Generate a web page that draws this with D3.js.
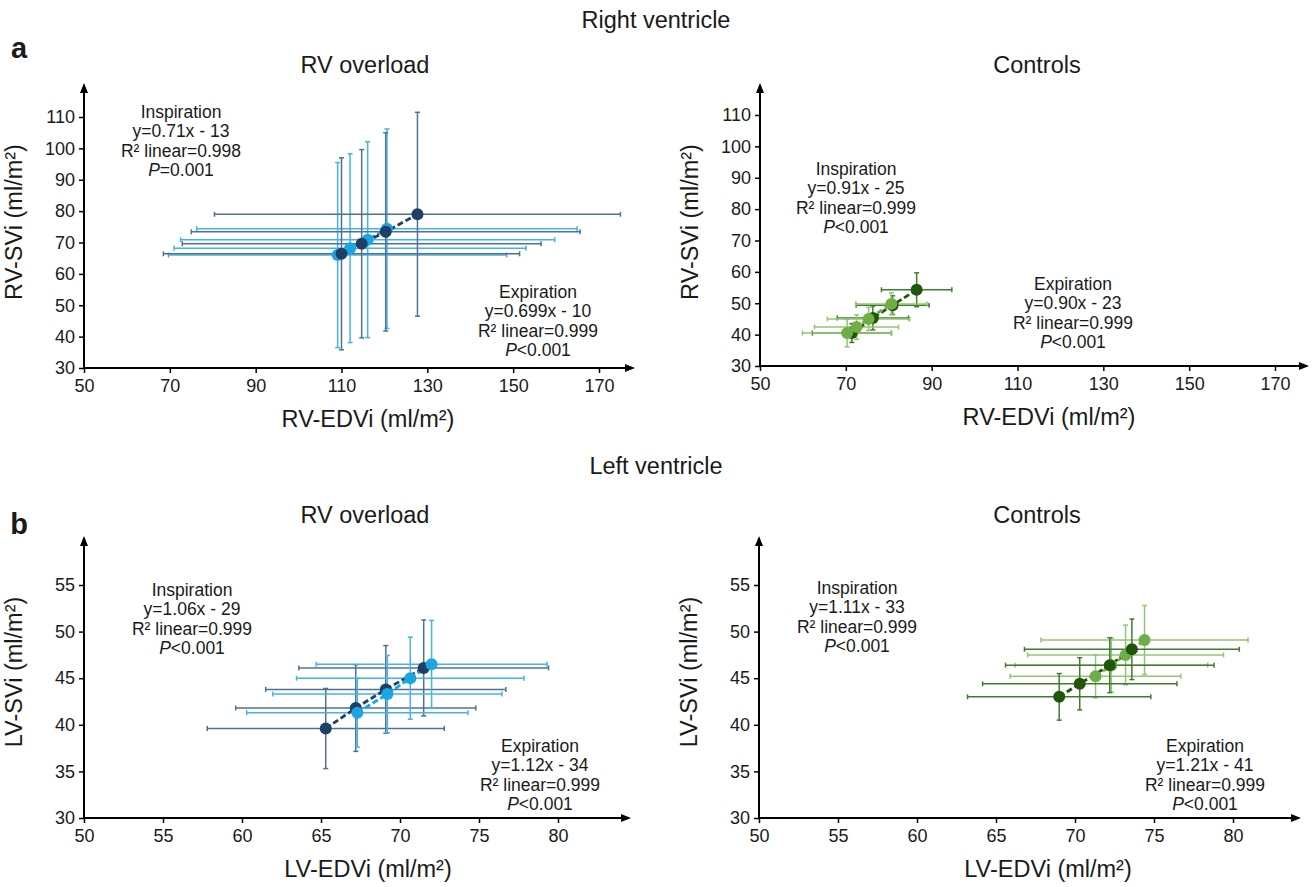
<!DOCTYPE html>
<html>
<head>
<meta charset="utf-8">
<script src="https://cdn.jsdelivr.net/npm/d3@7"></script>
<style>
  body { margin: 0; background: #fff; }
  text { font-family: "Liberation Sans", Arial, sans-serif; fill: #1a1a1a; }
</style>
</head>
<body>
<svg id="chart" width="1313" height="887"></svg>
<script>
// each row: [x, y, xErr, yErr]
const rvOverInsp = [[127.7, 79.0, 47.3, 32.5], [120.3, 73.4, 45.3, 31.6], [114.7, 69.6, 41.8, 30.0], [110.0, 66.4, 41.5, 30.6]];
const rvOverExp  = [[120.6, 74.4, 44.3, 31.8], [116.1, 70.9, 43.6, 31.2], [112.0, 68.2, 41.0, 30.1], [109.1, 66.0, 39.4, 29.5]];
const rvCtrlInsp = [[86.5, 54.3, 8.2, 5.4], [80.9, 49.4, 8.5, 3.0], [76.3, 45.3, 8.3, 3.8], [71.4, 40.5, 9.2, 3.0]];
const rvCtrlExp  = [[80.6, 49.8, 8.3, 3.5], [75.3, 45.0, 9.6, 3.7], [72.5, 42.4, 9.8, 3.9], [70.3, 40.5, 10.4, 4.4]];
const lvOverInsp = [[65.3, 39.6, 7.5, 4.3], [67.2, 41.8, 7.6, 4.65], [69.1, 43.8, 7.6, 4.7], [71.5, 46.1, 7.9, 5.15]];
const lvOverExp  = [[67.3, 41.3, 7.0, 3.7], [69.2, 43.3, 7.25, 4.15], [70.65, 45.0, 7.2, 4.4], [72.0, 46.5, 7.3, 4.7]];
const lvCtrlInsp = [[69.0, 43.0, 5.8, 2.5], [70.3, 44.4, 6.15, 2.8], [72.2, 46.4, 6.6, 2.95], [73.6, 48.1, 6.8, 3.25]];
const lvCtrlExp  = [[71.3, 45.2, 5.4, 2.3], [72.3, 46.4, 6.1, 2.9], [73.2, 47.5, 6.2, 3.2], [74.4, 49.1, 6.55, 3.7]];

const rvXTicks = [50, 70, 90, 110, 130, 150, 170];
const rvYTicks = [30, 40, 50, 60, 70, 80, 90, 100, 110];
const lvXTicks = [50, 55, 60, 65, 70, 75, 80];
const lvYTicks = [30, 35, 40, 45, 50, 55];

const rvOverInspText = ["Inspiration", "y=0.71x - 13", "R² linear=0.998", "=0.001"];
const rvOverExpText  = ["Expiration", "y=0.699x - 10", "R² linear=0.999", "<0.001"];
const rvCtrlInspText = ["Inspiration", "y=0.91x - 25", "R² linear=0.999", "<0.001"];
const rvCtrlExpText  = ["Expiration", "y=0.90x - 23", "R² linear=0.999", "<0.001"];
const lvOverInspText = ["Inspiration", "y=1.06x - 29", "R² linear=0.999", "<0.001"];
const lvOverExpText  = ["Expiration", "y=1.12x - 34", "R² linear=0.999", "<0.001"];
const lvCtrlInspText = ["Inspiration", "y=1.11x - 33", "R² linear=0.999", "<0.001"];
const lvCtrlExpText  = ["Expiration", "y=1.21x - 41", "R² linear=0.999", "<0.001"];

const blue  = { dark: "#1f3f66", darkBar: "#4f7196", light: "#1aa6e2", lightBar: "#45b3e6" };
const green = { dark: "#1f560c", darkBar: "#3f7d2e", light: "#6fae47", lightBar: "#93c572" };

let svg = d3.select("#chart");

svg.append("defs").append("marker")
    .attr("id", "arrow")
    .attr("viewBox", "0 0 10 10")
    .attr("refX", 8).attr("refY", 5)
    .attr("markerWidth", 5).attr("markerHeight", 5)
    .attr("orient", "auto")
  .append("path")
    .attr("d", "M0,1 L10,5 L0,9 z")
    .attr("fill", "#000");

function title(x, y, txt, size, weight) {
    svg.append("text")
        .attr("x", x).attr("y", y)
        .attr("text-anchor", "middle")
        .style("font-size", size + "px")
        .style("font-weight", weight || "normal")
        .text(txt);
}

function statBlock(g, cx, cy, lines) {
    let t = g.append("text")
        .attr("text-anchor", "middle")
        .style("font-size", "17.5px");
    lines.forEach(function(l, i) {
        let ts = t.append("tspan").attr("x", cx).attr("y", cy + i * 19.4);
        if (i == 3) {
            ts.append("tspan").style("font-style", "italic").text("P");
            ts.append("tspan").text(l);
        } else {
            ts.text(l);
        }
    });
}

function drawPanel(p) {
    let g = svg.append("g");
    let x = d3.scaleLinear().domain(p.xDomain).range([p.left, p.right]);
    let y = d3.scaleLinear().domain(p.yDomain).range([p.bottom, p.top]);

    // axes with arrows
    g.append("line")
        .attr("x1", p.left).attr("x2", p.arrowX)
        .attr("y1", p.bottom).attr("y2", p.bottom)
        .attr("stroke", "#000").attr("stroke-width", 2)
        .attr("marker-end", "url(#arrow)");
    g.append("line")
        .attr("x1", p.left).attr("x2", p.left)
        .attr("y1", p.bottom).attr("y2", p.arrowY)
        .attr("stroke", "#000").attr("stroke-width", 2)
        .attr("marker-end", "url(#arrow)");

    let xAxis = g.append("g")
        .attr("transform", "translate(0," + p.bottom + ")")
        .call(d3.axisBottom(x).tickValues(p.xTicks).tickSize(5).tickPadding(6));
    let yAxis = g.append("g")
        .attr("transform", "translate(" + p.left + ",0)")
        .call(d3.axisLeft(y).tickValues(p.yTicks).tickSize(5).tickPadding(4));
    [xAxis, yAxis].forEach(function(a) {
        a.select(".domain").remove();
        a.selectAll(".tick line").attr("stroke", "#000").attr("stroke-width", 1.5);
        a.selectAll(".tick text")
            .style("font-size", "18px")
            .style("font-family", "'Liberation Sans', Arial, sans-serif")
            .attr("fill", "#1a1a1a");
    });

    // axis titles
    g.append("text")
        .attr("x", p.xTitleX).attr("y", p.bottom + 59)
        .attr("text-anchor", "middle")
        .style("font-size", "23.5px")
        .text(p.xTitle);
    g.append("text")
        .attr("transform", "translate(" + (p.left - 62) + "," + p.yTitleY + ") rotate(-90)")
        .attr("text-anchor", "middle")
        .style("font-size", "23.5px")
        .text(p.yTitle);

    let series = p.series;
    // error bars
    series.forEach(function(s) {
        let eb = g.append("g")
            .attr("stroke", s.barColor)
            .attr("stroke-width", 1.5);
        s.data.forEach(function(d) {
            let cx = x(d[0]), cy = y(d[1]);
            let x0 = x(d[0] - d[2]), x1 = x(d[0] + d[2]);
            let y0 = y(d[1] - d[3]), y1 = y(d[1] + d[3]);
            eb.append("line").attr("x1", x0).attr("x2", x1).attr("y1", cy).attr("y2", cy);
            eb.append("line").attr("x1", x0).attr("x2", x0).attr("y1", cy - 2.5).attr("y2", cy + 2.5);
            eb.append("line").attr("x1", x1).attr("x2", x1).attr("y1", cy - 2.5).attr("y2", cy + 2.5);
            eb.append("line").attr("x1", cx).attr("x2", cx).attr("y1", y0).attr("y2", y1);
            eb.append("line").attr("x1", cx - 2.5).attr("x2", cx + 2.5).attr("y1", y0).attr("y2", y0);
            eb.append("line").attr("x1", cx - 2.5).attr("x2", cx + 2.5).attr("y1", y1).attr("y2", y1);
        });
    });

    // dashed trend + points
    series.forEach(function(s) {
        let sorted = s.data.slice().sort(function(a, b) { return a[0] - b[0]; });
        g.append("path")
            .datum(sorted)
            .attr("fill", "none")
            .attr("stroke", s.color)
            .attr("stroke-width", 2.8)
            .attr("stroke-dasharray", "6,3")
            .attr("d", d3.line().x(function(d) { return x(d[0]); }).y(function(d) { return y(d[1]); }));
    });
    series.forEach(function(s) {
        g.selectAll(null)
            .data(s.data)
            .enter()
            .append("circle")
            .attr("cx", function(d) { return x(d[0]); })
            .attr("cy", function(d) { return y(d[1]); })
            .attr("r", 6)
            .attr("fill", s.color);
    });

    statBlock(g, p.inspPos[0], p.inspPos[1], p.inspText);
    statBlock(g, p.expPos[0], p.expPos[1], p.expText);
}

title(656, 28, "Right ventricle", 23.5);
title(19, 58, "a", 29, "bold");
title(365, 73, "RV overload", 23.5);
title(1037, 73, "Controls", 23.5);
title(656, 474, "Left ventricle", 23.5);
title(19, 534, "b", 29, "bold");
title(365, 523, "RV overload", 23.5);
title(1037, 523, "Controls", 23.5);

drawPanel({
    xDomain: [50, 170], yDomain: [30, 110], left: 84, right: 599, bottom: 368, top: 117,
    arrowX: 633, arrowY: 85, xTicks: rvXTicks, yTicks: rvYTicks,
    xTitleX: 368, yTitleY: 222,
    xTitle: "RV-EDVi (ml/m²)", yTitle: "RV-SVi (ml/m²)",
    series: [
        { data: rvOverExp, color: blue.light, barColor: blue.lightBar },
        { data: rvOverInsp, color: blue.dark, barColor: blue.darkBar }
    ],
    inspText: rvOverInspText, inspPos: [181, 118],
    expText: rvOverExpText, expPos: [538, 298]
});

drawPanel({
    xDomain: [50, 170], yDomain: [30, 110], left: 760, right: 1275, bottom: 366, top: 115,
    arrowX: 1307, arrowY: 85, xTicks: rvXTicks, yTicks: rvYTicks,
    xTitleX: 1049, yTitleY: 222,
    xTitle: "RV-EDVi (ml/m²)", yTitle: "RV-SVi (ml/m²)",
    series: [
        { data: rvCtrlInsp, color: green.dark, barColor: green.darkBar },
        { data: rvCtrlExp, color: green.light, barColor: green.lightBar }
    ],
    inspText: rvCtrlInspText, inspPos: [856, 175],
    expText: rvCtrlExpText, expPos: [1073, 290]
});

drawPanel({
    xDomain: [50, 80], yDomain: [30, 55], left: 84, right: 558, bottom: 818, top: 585,
    arrowX: 629, arrowY: 538, xTicks: lvXTicks, yTicks: lvYTicks,
    xTitleX: 368, yTitleY: 672,
    xTitle: "LV-EDVi (ml/m²)", yTitle: "LV-SVi (ml/m²)",
    series: [
        { data: lvOverInsp, color: blue.dark, barColor: blue.darkBar },
        { data: lvOverExp, color: blue.light, barColor: blue.lightBar }
    ],
    inspText: lvOverInspText, inspPos: [192, 596],
    expText: lvOverExpText, expPos: [540, 752]
});

drawPanel({
    xDomain: [50, 80], yDomain: [30, 55], left: 759, right: 1233, bottom: 818, top: 585,
    arrowX: 1299, arrowY: 538, xTicks: lvXTicks, yTicks: lvYTicks,
    xTitleX: 1048, yTitleY: 672,
    xTitle: "LV-EDVi (ml/m²)", yTitle: "LV-SVi (ml/m²)",
    series: [
        { data: lvCtrlExp, color: green.light, barColor: green.lightBar },
        { data: lvCtrlInsp, color: green.dark, barColor: green.darkBar }
    ],
    inspText: lvCtrlInspText, inspPos: [857, 594],
    expText: lvCtrlExpText, expPos: [1205, 752]
});
</script>
</body>
</html>
